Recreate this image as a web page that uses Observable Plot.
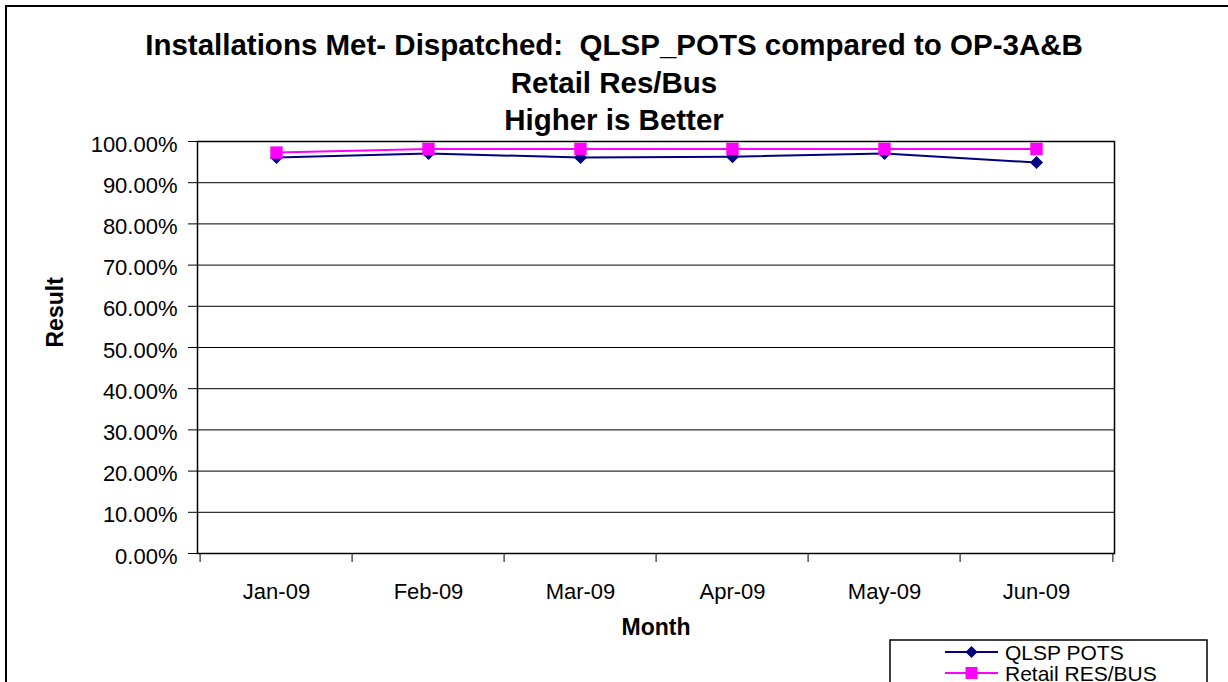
<!DOCTYPE html>
<html><head><meta charset="utf-8">
<script src="https://cdn.jsdelivr.net/npm/d3@7"></script>
<script src="https://cdn.jsdelivr.net/npm/@observablehq/plot@0.6"></script>
<style>
html,body{margin:0;padding:0;background:#fff;overflow:hidden}
#wrap{position:relative;width:1228px;height:682px;overflow:hidden;font-family:Arial,"Liberation Sans",sans-serif;color:#000}
#border{position:absolute;left:5px;top:5px;width:1300px;height:800px;border:2px solid #000}
#chart{position:absolute;left:0;top:0}
#title{position:absolute;left:0;top:26px;width:1228px;text-align:center;font-weight:bold;font-size:29.5px;line-height:37.5px;white-space:pre}
#legend{position:absolute;left:0;top:0;pointer-events:none}
</style></head>
<body><div id="wrap"><div id="border"></div><div id="chart"></div><div id="title"></div><svg id="legend" width="1228" height="682"></svg></div>
<script>
const titleLines = ["Installations Met- Dispatched:  QLSP_POTS compared to OP-3A&B", "Retail Res/Bus", "Higher is Better"];
const months = ["Jan-09", "Feb-09", "Mar-09", "Apr-09", "May-09", "Jun-09"];
const qlspPots = [0.961, 0.971, 0.961, 0.963, 0.971, 0.949];
const retailResBus = [0.973, 0.982, 0.982, 0.982, 0.982, 0.982];
const seriesNames = ["QLSP POTS", "Retail RES/BUS"];
const seriesColors = ["#000080", "#FF00FF"];
const yTicks = [0, 0.1, 0.2, 0.3, 0.4, 0.5, 0.6, 0.7, 0.8, 0.9, 1.0];
const xTitle = "Month";
const yTitle = "Result";

document.getElementById("title").innerHTML = titleLines.map(t => `<div>${t.replace(/&/g, "&amp;")}</div>`).join("");

const qData = months.map((m, i) => ({month: m, value: qlspPots[i]}));
const rData = months.map((m, i) => ({month: m, value: retailResBus[i]}));

const W = 1228, H = 682, ML = 197, MR = 114, MT = 141, MB = 129;
const bw = (W - ML - MR) / months.length;
const font = "Arial, 'Liberation Sans', sans-serif";

const chart = Plot.plot({
  width: W, height: H,
  marginLeft: ML, marginRight: MR, marginTop: MT, marginBottom: MB,
  style: {background: "transparent", fontFamily: font, fontSize: "22px", color: "#000", overflow: "visible"},
  x: {type: "band", domain: months, padding: 0},
  y: {domain: [0, 1]},
  marks: [
    Plot.gridY(yTicks, {stroke: "#000", strokeOpacity: 1, strokeWidth: 1, insetLeft: -9}),
    Plot.frame({stroke: "#000", strokeWidth: 1.5}),
    Plot.axisY(yTicks, {tickSize: 0, tickPadding: 20, dy: 3, tickFormat: d3.format(".2%"), fontSize: 22, label: null}),
    Plot.axisX({tickSize: 0, tickPadding: 30, fontSize: 22, label: null}),
    Plot.ruleX(months, {x: d => d, y1: 0, y2: 0, dx: -bw / 2, insetBottom: -9, stroke: "#000", strokeWidth: 1}),
    Plot.ruleX([months[months.length - 1]], {x: d => d, y1: 0, y2: 0, dx: bw / 2, insetBottom: -9, stroke: "#000", strokeWidth: 1}),
    Plot.line(qData, {x: "month", y: "value", stroke: seriesColors[0], strokeWidth: 2}),
    Plot.dot(qData, {x: "month", y: "value", symbol: "diamond2", r: 5.9, fill: seriesColors[0], stroke: "none"}),
    Plot.line(rData, {x: "month", y: "value", stroke: seriesColors[1], strokeWidth: 2}),
    Plot.dot(rData, {x: "month", y: "value", symbol: "square", r: 7, fill: seriesColors[1], stroke: "none"}),
    Plot.text([yTitle], {text: d => d, frameAnchor: "left", dx: -142, rotate: -90, fontWeight: "bold", fontSize: 23}),
    Plot.text([xTitle], {text: d => d, frameAnchor: "bottom", dy: 81.6, fontWeight: "bold", fontSize: 23})
  ]
});
document.getElementById("chart").appendChild(chart);

// Legend
const lg = d3.select("#legend");
lg.append("rect").attr("x", 890).attr("y", 640).attr("width", 317).attr("height", 80)
  .attr("fill", "#fff").attr("stroke", "#000").attr("stroke-width", 1.5);
const rowsY = [652, 673];
const symbols = [d3.symbol(d3.symbolDiamond2, 92), d3.symbol(d3.symbolSquare, 144)];
seriesNames.forEach((name, i) => {
  const y = rowsY[i];
  lg.append("line").attr("x1", 945).attr("x2", 998).attr("y1", y).attr("y2", y)
    .attr("stroke", seriesColors[i]).attr("stroke-width", 2);
  lg.append("path").attr("d", symbols[i]()).attr("transform", `translate(971.5,${y})`).attr("fill", seriesColors[i]);
  lg.append("text").attr("x", 1005).attr("y", y + 7.5).attr("font-family", font).attr("font-size", 21).attr("fill", "#000").text(name);
});
</script>
</body></html>
